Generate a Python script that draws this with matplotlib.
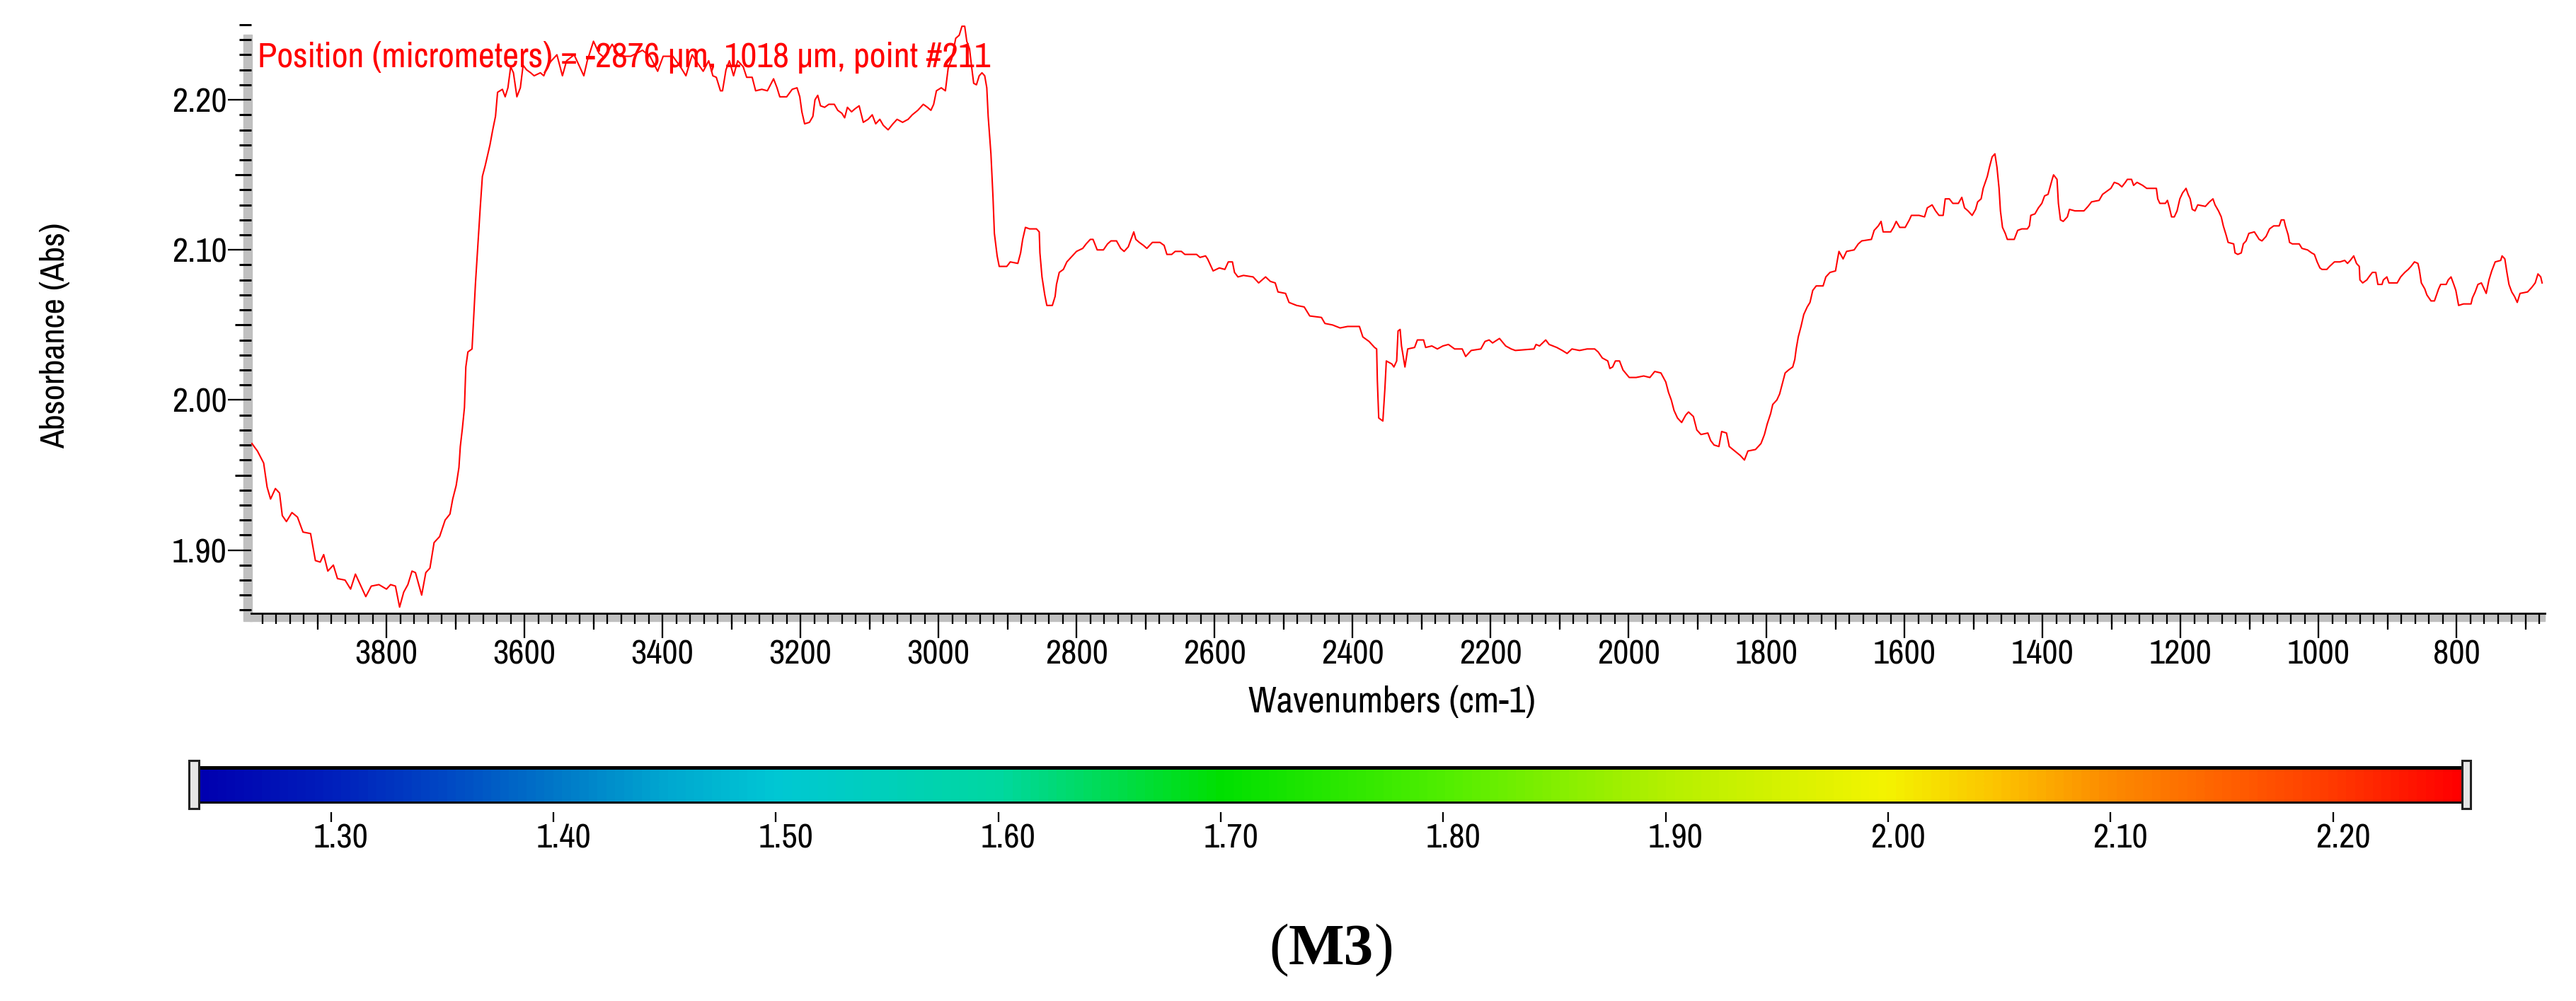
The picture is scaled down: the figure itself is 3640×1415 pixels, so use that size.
import numpy as np
import matplotlib
matplotlib.use("Agg")
import matplotlib.pyplot as plt
import matplotlib.transforms as mtransforms
from matplotlib.colors import LinearSegmentedColormap
from matplotlib.patches import Rectangle
from matplotlib.ticker import MultipleLocator, FormatStrFormatter

# espectro do ponto #211
numero_onda = [
    3995, 3987, 3978, 3973, 3968, 3961, 3955, 3951, 3945, 3937,
    3929, 3921, 3910, 3903, 3896, 3891, 3885, 3877, 3871, 3860,
    3852, 3845, 3838, 3830, 3822, 3811, 3800, 3794, 3787, 3781,
    3775, 3769, 3763, 3758, 3749, 3743, 3737, 3731, 3723, 3715,
    3708, 3704, 3699, 3695, 3693, 3690, 3687, 3685, 3682, 3676,
    3674, 3671, 3667, 3664, 3661, 3657, 3653, 3650, 3646, 3642,
    3639, 3632, 3628, 3624, 3620, 3616, 3611, 3606, 3602, 3597,
    3591, 3586, 3577, 3572, 3566, 3561, 3553, 3545, 3539, 3528,
    3520, 3514, 3509, 3500, 3492, 3484, 3473, 3462, 3446, 3429,
    3418, 3407, 3399, 3385, 3374, 3366, 3357, 3347, 3341, 3333,
    3327, 3322, 3316, 3313, 3308, 3303, 3297, 3291, 3283, 3278,
    3270, 3265, 3256, 3248, 3239, 3234, 3230, 3220, 3212, 3205,
    3201, 3198, 3194, 3187, 3182, 3179, 3175, 3171,
    3165, 3159, 3151, 3146, 3140, 3136, 3132, 3126, 3121, 3115,
    3109, 3102, 3096, 3091, 3085, 3080, 3073, 3066, 3060, 3052,
    3044, 3038, 3030, 3022, 3016, 3011, 3007, 3003, 2996, 2990,
    2986, 2981, 2975, 2970, 2966, 2962, 2959, 2955, 2952, 2949,
    2945, 2941, 2937, 2933, 2930, 2928, 2924, 2921, 2919, 2915,
    2912, 2901, 2896, 2885, 2881, 2878, 2874, 2868, 2858, 2854,
    2853, 2850, 2846, 2843, 2835, 2831, 2829, 2825, 2819, 2814,
    2808, 2800, 2791, 2786, 2780, 2776, 2770, 2761, 2755, 2750,
    2742, 2736, 2731, 2725, 2721, 2717, 2714, 2709, 2703, 2698,
    2690, 2679, 2673, 2669, 2662, 2657, 2648, 2643, 2635, 2626,
    2621, 2613, 2610, 2602, 2593, 2585, 2580, 2574, 2571, 2566,
    2558, 2544, 2536, 2526, 2519, 2512, 2508, 2497, 2492, 2481,
    2470, 2462, 2445, 2440, 2429, 2418, 2407, 2390, 2385, 2376,
    2368, 2365, 2364, 2362, 2356, 2353, 2351, 2343, 2340, 2336,
    2334, 2331, 2329, 2324, 2320, 2310,
    2306, 2297, 2294, 2285, 2277, 2269, 2261, 2252, 2241, 2236,
    2228, 2214, 2208, 2202, 2197, 2187, 2178, 2170, 2164, 2137,
    2134, 2129, 2120, 2115, 2104, 2096, 2089, 2082, 2071, 2060,
    2049, 2044, 2038, 2030, 2027, 2023, 2019, 2013, 2008, 1999,
    1989, 1978, 1969, 1962, 1953, 1946, 1942, 1938, 1934, 1929,
    1923, 1917, 1913, 1906, 1901, 1895, 1885, 1881, 1876, 1869,
    1865, 1858, 1854, 1846, 1838, 1832, 1827, 1816, 1808, 1803,
    1799, 1794, 1791, 1785, 1781, 1777, 1773, 1768, 1762, 1759,
    1757, 1754, 1750, 1746, 1741, 1737, 1733, 1728, 1718, 1714,
    1708, 1700, 1697, 1695, 1689, 1684, 1673, 1667, 1662, 1648,
    1644, 1638, 1634, 1631, 1620, 1616, 1612, 1607, 1599, 1593,
    1590, 1579, 1571, 1567, 1560, 1555, 1550, 1544, 1541, 1535,
    1530, 1522, 1517, 1513, 1508, 1502, 1497, 1494, 1489, 1486,
    1480, 1477, 1473, 1469,
    1466, 1463, 1461, 1458, 1454, 1451, 1441, 1436, 1430, 1422,
    1419, 1417, 1411, 1406, 1401, 1397, 1392, 1389, 1386, 1384,
    1379, 1377, 1374, 1370, 1364, 1361, 1353, 1340, 1334, 1329,
    1318, 1313, 1307, 1301, 1296, 1290, 1285, 1280, 1277, 1271,
    1268, 1263, 1255, 1249, 1235, 1233, 1230, 1222, 1219, 1216,
    1213, 1209, 1205, 1201, 1197, 1192, 1189, 1186, 1183, 1179,
    1175, 1164, 1158, 1153, 1150, 1145, 1141, 1138, 1134, 1131,
    1123, 1121, 1117, 1112, 1109, 1105, 1101, 1093, 1086, 1082,
    1076, 1071, 1065, 1057, 1054, 1050, 1048, 1044, 1042, 1038,
    1028, 1024, 1016, 1010, 1006, 1002, 998, 995, 988, 984,
    977, 969, 962, 958, 954, 949, 945, 941, 940, 936,
    930, 927, 922, 917, 914, 908, 906, 901, 898, 886,
    881, 875, 870, 866, 861, 856, 854, 851, 846, 843,
    837, 832, 826, 823, 815, 812, 808, 804, 801, 797,
    790, 779, 777, 773, 769, 764, 760, 757, 753, 749,
    744, 736, 734, 730, 727, 724, 720, 716, 712, 708,
    697, 691, 686, 682, 678, 676,
]
absorbancia = [
    1.971, 1.966, 1.958, 1.942, 1.934, 1.941, 1.938, 1.923, 1.919, 1.925,
    1.922, 1.912, 1.911, 1.893, 1.892, 1.897, 1.886, 1.890, 1.881, 1.880,
    1.874, 1.884, 1.877, 1.869, 1.876, 1.877, 1.874, 1.877, 1.876, 1.862,
    1.872, 1.877, 1.886, 1.885, 1.870, 1.885, 1.888, 1.905, 1.909, 1.920,
    1.924, 1.934, 1.943, 1.955, 1.969, 1.981, 1.995, 2.022, 2.032, 2.034,
    2.052, 2.078, 2.107, 2.129, 2.149, 2.156, 2.164, 2.170, 2.180, 2.189,
    2.205, 2.207, 2.202, 2.208, 2.222, 2.218, 2.202, 2.208, 2.223, 2.220,
    2.218, 2.216, 2.218, 2.216, 2.223, 2.226, 2.230, 2.216, 2.226, 2.230,
    2.222, 2.216, 2.226, 2.239, 2.231, 2.228, 2.237, 2.229, 2.229, 2.233,
    2.229, 2.219, 2.229, 2.229, 2.222, 2.216, 2.230, 2.223, 2.219, 2.226,
    2.216, 2.215, 2.206, 2.206, 2.220, 2.226, 2.216, 2.226, 2.222, 2.215,
    2.215, 2.206, 2.207, 2.206, 2.214, 2.208, 2.202, 2.202, 2.207, 2.208,
    2.202, 2.192, 2.184, 2.185, 2.189, 2.200, 2.203, 2.196,
    2.195, 2.197, 2.197, 2.193, 2.191, 2.188, 2.195, 2.192, 2.194, 2.196,
    2.185, 2.187, 2.190, 2.184, 2.187, 2.183, 2.180, 2.184, 2.187, 2.185,
    2.187, 2.190, 2.193, 2.197, 2.195, 2.193, 2.197, 2.206, 2.208, 2.206,
    2.221, 2.227, 2.241, 2.243, 2.249, 2.249, 2.239, 2.234, 2.222, 2.211,
    2.210, 2.216, 2.218, 2.216, 2.208, 2.189, 2.164, 2.135, 2.111, 2.096,
    2.089, 2.089, 2.092, 2.091, 2.098, 2.107, 2.115, 2.114, 2.114, 2.112,
    2.098, 2.082, 2.070, 2.063, 2.063, 2.069, 2.077, 2.085, 2.087, 2.092,
    2.095, 2.099, 2.101, 2.104, 2.107, 2.107, 2.100, 2.100, 2.104, 2.106,
    2.106, 2.101, 2.099, 2.102, 2.107, 2.112, 2.107, 2.105, 2.103, 2.101,
    2.105, 2.105, 2.103, 2.097, 2.097, 2.099, 2.099, 2.097, 2.097, 2.097,
    2.095, 2.096, 2.094, 2.086, 2.088, 2.087, 2.092, 2.092, 2.085, 2.082,
    2.083, 2.082, 2.078, 2.082, 2.079, 2.078, 2.072, 2.071, 2.065, 2.063,
    2.062, 2.056, 2.055, 2.051, 2.050, 2.048, 2.049, 2.049, 2.042, 2.039,
    2.035, 2.034, 2.013, 1.988, 1.986, 2.008, 2.026, 2.024, 2.022, 2.026,
    2.046, 2.047, 2.036, 2.022, 2.034, 2.035,
    2.040, 2.040, 2.035, 2.036, 2.034, 2.036, 2.037, 2.034, 2.034, 2.029,
    2.033, 2.034, 2.039, 2.040, 2.038, 2.041, 2.036, 2.034, 2.033, 2.034,
    2.037, 2.036, 2.040, 2.037, 2.035, 2.033, 2.031, 2.034, 2.033, 2.034,
    2.034, 2.032, 2.028, 2.026, 2.021, 2.022, 2.026, 2.026, 2.020, 2.015,
    2.015, 2.016, 2.015, 2.019, 2.018, 2.012, 2.005, 2.000, 1.993, 1.988,
    1.985, 1.990, 1.992, 1.989, 1.980, 1.977, 1.978, 1.973, 1.970, 1.969,
    1.979, 1.978, 1.969, 1.966, 1.963, 1.960, 1.966, 1.967, 1.971, 1.977,
    1.984, 1.991, 1.997, 2.000, 2.004, 2.011, 2.018, 2.020, 2.022, 2.027,
    2.034, 2.042, 2.049, 2.057, 2.062, 2.065, 2.073, 2.076, 2.076, 2.082,
    2.085, 2.086, 2.094, 2.099, 2.094, 2.099, 2.100, 2.104, 2.106, 2.107,
    2.113, 2.116, 2.119, 2.112, 2.112, 2.115, 2.119, 2.115, 2.115, 2.120,
    2.123, 2.123, 2.122, 2.128, 2.130, 2.126, 2.123, 2.123, 2.134, 2.134,
    2.131, 2.131, 2.135, 2.128, 2.126, 2.123, 2.127, 2.132, 2.134, 2.141,
    2.149, 2.155, 2.162, 2.164,
    2.155, 2.141, 2.126, 2.115, 2.111, 2.107, 2.107, 2.113, 2.114, 2.114,
    2.116, 2.123, 2.124, 2.128, 2.131, 2.136, 2.137, 2.142, 2.147, 2.150,
    2.147, 2.131, 2.120, 2.119, 2.122, 2.127, 2.126, 2.126, 2.129, 2.132,
    2.133, 2.137, 2.139, 2.141, 2.145, 2.144, 2.142, 2.145, 2.147, 2.147,
    2.143, 2.145, 2.143, 2.141, 2.141, 2.134, 2.131, 2.131, 2.133, 2.128,
    2.122, 2.122, 2.126, 2.134, 2.138, 2.141, 2.137, 2.134, 2.127, 2.126,
    2.130, 2.129, 2.132, 2.134, 2.130, 2.126, 2.122, 2.116, 2.110, 2.105,
    2.104, 2.098, 2.097, 2.098, 2.104, 2.106, 2.111, 2.112, 2.107, 2.106,
    2.109, 2.114, 2.116, 2.116, 2.120, 2.120, 2.116, 2.110, 2.105, 2.104,
    2.104, 2.101, 2.100, 2.098, 2.097, 2.092, 2.088, 2.087, 2.087, 2.089,
    2.092, 2.092, 2.093, 2.091, 2.093, 2.096, 2.091, 2.089, 2.080, 2.078,
    2.080, 2.082, 2.085, 2.085, 2.077, 2.077, 2.080, 2.082, 2.078, 2.078,
    2.082, 2.085, 2.087, 2.089, 2.092, 2.091, 2.087, 2.078, 2.074, 2.070,
    2.066, 2.066, 2.074, 2.077, 2.077, 2.080, 2.082, 2.077, 2.073, 2.063,
    2.064, 2.064, 2.068, 2.072, 2.077, 2.078, 2.074, 2.071, 2.080, 2.086,
    2.092, 2.093, 2.096, 2.094, 2.085, 2.077, 2.072, 2.069, 2.065, 2.071,
    2.072, 2.075, 2.078, 2.084, 2.082, 2.078,
]

limites_x = (3996, 672)
limites_y = (1.858, 2.250)

# escala de cores do mapa
escala_min, escala_max = 1.2406, 2.258
escala_ticks = [1.30, 1.40, 1.50, 1.60, 1.70, 1.80, 1.90, 2.00, 2.10, 2.20]
escala_valores = [1.2406, 1.30, 1.35, 1.40, 1.45, 1.50, 1.60, 1.70, 1.80,
                  1.90, 2.00, 2.05, 2.10, 2.15, 2.20, 2.258]
escala_cores = ['#0000b0', '#0020bc', '#0048c4', '#0078c8', '#00a8d0', '#00c8d4',
                '#00d8a0', '#00e000', '#50ee00', '#b4f000', '#f4f400', '#fcc400',
                '#fc8c00', '#ff6400', '#ff3c00', '#ff0000']

texto_posicao = "Position (micrometers) = -2876 \u00b5m, 1018 \u00b5m, point #211"

# fonte estreita, parecida com a do software do espectrometro
plt.rcParams['font.family'] = ['Archivo Narrow', 'DejaVu Sans']

W, H = 3640, 1415
def px(v):
    # pixels -> pontos (dpi 100)
    return v * 72 / 100

fig = plt.figure(figsize=(W / 100, H / 100), dpi=100)

# ---- espectro ----
ax = fig.add_axes([355 / W, 1 - 866.7 / H, 3241 / W, 831.7 / H])
ax.plot(numero_onda, absorbancia, color='#ff0000', lw=1.5)
ax.set_xlim(*limites_x)
ax.set_ylim(*limites_y)

for lado in ['top', 'right', 'left']:
    ax.spines[lado].set_visible(False)
ax.spines['bottom'].set_linewidth(2)

ax.xaxis.set_major_locator(MultipleLocator(200))
ax.xaxis.set_minor_locator(MultipleLocator(20))
ax.xaxis.set_major_formatter(FormatStrFormatter('%d'))
ax.yaxis.set_major_locator(MultipleLocator(0.1))
ax.yaxis.set_minor_locator(MultipleLocator(0.01))
ax.yaxis.set_major_formatter(FormatStrFormatter('%.2f'))

ax.tick_params(axis='x', which='major', direction='out', length=px(35),
               width=px(2.3), labelsize=35, pad=1)
ax.tick_params(axis='x', which='minor', direction='out', length=px(15), width=px(2.3))
ax.tick_params(axis='y', which='major', direction='out', length=px(33),
               width=px(2.3), labelsize=35, pad=1)
ax.tick_params(axis='y', which='minor', direction='out', length=px(17), width=px(3))

# ticks intermediarios (100 cm-1 e 0.05)
sec_x = ax.secondary_xaxis('bottom')
sec_x.set_xticks(np.arange(3900, 600, -200))
sec_x.tick_params(length=px(23), width=px(2.3), labelbottom=False)
sec_x.spines['bottom'].set_visible(False)
sec_y = ax.secondary_yaxis('left')
sec_y.set_yticks([1.95, 2.05, 2.15])
sec_y.tick_params(length=px(23), width=px(3), labelleft=False)
sec_y.spines['left'].set_visible(False)

# faixas cinza dos eixos
ax.add_patch(Rectangle((-2 / 3241, -11.3 / 831.7), 1 + 2 / 3241, 11.3 / 831.7,
                       transform=ax.transAxes, color='#c0c0c0', clip_on=False, zorder=0.5))
ax.add_patch(Rectangle((-11 / 3241, -11.3 / 831.7), 12 / 3241, 1 + 11.3 / 831.7 - 14 / 831.7,
                       transform=ax.transAxes, color='#c0c0c0', clip_on=False, zorder=0.5))

ax.text(9 / 3241, 0.928, texto_posicao, transform=ax.transAxes, color='#ff0000',
        fontsize=36, ha='left', va='baseline')

fig.text(78 / W, 1 - 474 / H, 'Absorbance (Abs)', rotation=90, ha='center',
         va='center', fontsize=35)
fig.text(1967 / W, 1 - 1006.7 / H, 'Wavenumbers (cm-1)', ha='center',
         va='baseline', fontsize=37)

# ---- barra de cores ----
cax = fig.add_axes([267 / W, 1 - 1162 / H, 3224 / W, 87 / H])
pos = [(v - escala_min) / (escala_max - escala_min) for v in escala_valores]
cmap = LinearSegmentedColormap.from_list('mapa', list(zip(pos, escala_cores)))
gradiente = np.linspace(escala_min, escala_max, 1024).reshape(1, -1)
cax.imshow(gradiente, cmap=cmap, vmin=escala_min, vmax=escala_max,
           extent=(escala_min, escala_max, 0.333, 0.839), aspect='auto',
           interpolation='bilinear')
px_por_unid = 3143
esq = escala_min - 14 / px_por_unid
dir_ = escala_max + 12 / px_por_unid
cax.set_xlim(esq, dir_)
cax.set_ylim(0, 1)
larg = escala_max - escala_min
cax.add_patch(Rectangle((escala_min, 0.851), larg, 0.057, color='black', lw=0))
cax.add_patch(Rectangle((escala_min, 0.299), larg, 0.034, color='black', lw=0))
cax.add_patch(Rectangle((esq, 0.218), 14 / px_por_unid, 0.782, facecolor='#e6e6e6',
                        edgecolor='#222222', lw=2.2, clip_on=False))
cax.add_patch(Rectangle((escala_max, 0.218), 12 / px_por_unid, 0.782, facecolor='#e6e6e6',
                        edgecolor='#222222', lw=2.2, clip_on=False))
for lado in cax.spines:
    cax.spines[lado].set_visible(False)
cax.set_yticks([])
cax.set_xticks(escala_ticks)
cax.set_xticklabels(['%.2f' % t for t in escala_ticks])
cax.tick_params(axis='x', direction='in', length=px(14), width=px(2.3),
                labelsize=35, pad=1)
desloc = mtransforms.ScaledTranslation(14 / 100, 0, fig.dpi_scale_trans)
for rot in cax.get_xticklabels():
    rot.set_transform(rot.get_transform() + desloc)

# ---- rotulo (M3) ----
t = fig.text(1881 / W, 1 - 1363 / H, 'M3', family='Liberation Serif', weight='bold',
             fontsize=60, ha='center', va='baseline')
fig.canvas.draw()
bb = t.get_window_extent()
fig.text(bb.x0 / W, 1 - 1363 / H, '(', family='Liberation Serif', fontsize=60,
         ha='right', va='baseline')
fig.text(bb.x1 / W, 1 - 1363 / H, ')', family='Liberation Serif', fontsize=60,
         ha='left', va='baseline')

fig.savefig('out.png', dpi=100)
